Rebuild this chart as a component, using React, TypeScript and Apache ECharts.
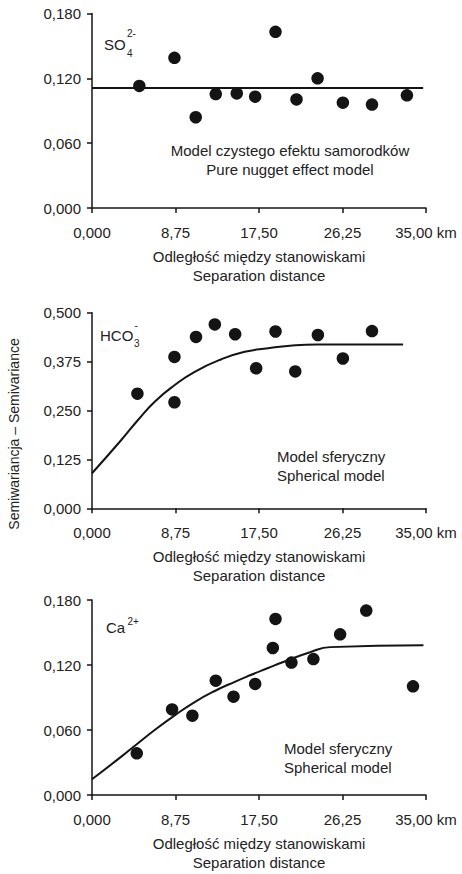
import React, { useEffect, useRef } from "react";
import * as echarts from "echarts";

// ---- data ----
const xTickLabels = ["0,000", "8,75", "17,50", "26,25", "35,00 km"];
const so4YTicks = ["0,000", "0,060", "0,120", "0,180"];
const hcoYTicks = ["0,000", "0,125", "0,250", "0,375", "0,500"];
const caYTicks = ["0,000", "0,060", "0,120", "0,180"];

const so4Dist = [4.96, 8.64, 10.87, 12.97, 15.17, 17.1, 19.23, 21.43, 23.64, 26.29, 29.34, 33.0];
const so4Gamma = [0.113, 0.139, 0.084, 0.1055, 0.106, 0.103, 0.163, 0.1005, 0.12, 0.0975, 0.0957, 0.1043];
const so4ModelDist = [0, 34.7];
const so4ModelGamma = [0.111, 0.111];

const hcoDist = [4.76, 8.64, 8.64, 10.9, 12.87, 15.0, 17.2, 19.23, 21.3, 23.67, 26.29, 29.34];
const hcoGamma = [0.293, 0.387, 0.271, 0.438, 0.47, 0.445, 0.358, 0.452, 0.35, 0.443, 0.383, 0.453];
const hcoModelDist = [0, 3.07, 4.82, 6.57, 8.67, 10.76, 13.56, 16.0, 18.45, 20.75, 23.55, 26.0, 32.6];
const hcoModelGamma = [0.0895, 0.1746, 0.2257, 0.2725, 0.315, 0.349, 0.381, 0.4, 0.409, 0.4157, 0.419, 0.419, 0.419];

const caDist = [4.69, 8.39, 10.52, 12.97, 14.83, 17.1, 18.95, 19.23, 20.9, 23.2, 26.0, 28.74, 33.64];
const caGamma = [0.0385, 0.079, 0.0732, 0.1055, 0.0908, 0.1025, 0.1357, 0.1625, 0.1222, 0.1255, 0.1483, 0.1702, 0.1003];
const caModelDist = [0, 3.07, 4.82, 6.57, 8.67, 10.76, 12.86, 14.96, 16.56, 18.45, 20.05, 22.85, 24.95, 34.73];
const caModelGamma = [0.0145, 0.0354, 0.0478, 0.06, 0.0735, 0.0858, 0.096, 0.1045, 0.1105, 0.1172, 0.1228, 0.1318, 0.1365, 0.1382];

const xAxisName = "Odległość między stanowiskami\nSeparation distance";
const yAxisName = "Semiwariancja – Semivariance";

const FONT = "'Liberation Sans', Arial, Helvetica, sans-serif";
const TEXT = "#222222";
const INK = "#141414";

const zip = (a: number[], b: number[]) => a.map((v, i) => [v, b[i]]);

export default function App() {
  const ref = useRef<HTMLDivElement>(null);
  useEffect(() => {
    if (!ref.current) return;
    const chart = echarts.init(ref.current, null, { renderer: "svg" });

    const grids = [
      { left: 92, top: 13.5, width: 334, height: 194.5 },
      { left: 92, top: 312.7, width: 334, height: 195.6 },
      { left: 92, top: 600, width: 334, height: 195 },
    ];
    const axisLine = { show: true, onZero: false, lineStyle: { color: INK, width: 1.5 } };
    const axisTick = { show: true, inside: false, length: 5, lineStyle: { color: INK, width: 1.5 } };

    const xAxes = grids.map((_, i) => ({
      type: "value",
      gridIndex: i,
      min: 0,
      max: 35,
      interval: 8.75,
      splitLine: { show: false },
      axisLine,
      axisTick,
      axisLabel: {
        margin: 17,
        color: TEXT,
        fontSize: 15,
        fontFamily: FONT,
        showMaxLabel: true,
        showMinLabel: true,
        formatter: (v: number) => xTickLabels[Math.round(v / 8.75)] ?? "",
      },
      name: xAxisName,
      nameLocation: "middle",
      nameGap: 39,
      nameTextStyle: { color: TEXT, fontSize: 15, fontFamily: FONT, lineHeight: 19 },
    }));

    const yDefs = [
      { max: 0.18, interval: 0.06, labels: so4YTicks },
      { max: 0.5, interval: 0.125, labels: hcoYTicks },
      { max: 0.18, interval: 0.06, labels: caYTicks },
    ];
    const yAxes = yDefs.map((d, i) => ({
      type: "value",
      gridIndex: i,
      min: 0,
      max: d.max,
      interval: d.interval,
      splitLine: { show: false },
      axisLine,
      axisTick,
      axisLabel: {
        margin: 11,
        color: TEXT,
        fontSize: 15,
        fontFamily: FONT,
        showMaxLabel: true,
        formatter: (v: number) => d.labels[Math.round(v / d.interval)] ?? "",
      },
    }));

    const scatter = (i: number, x: number[], y: number[]) => ({
      type: "scatter",
      xAxisIndex: i,
      yAxisIndex: i,
      data: zip(x, y),
      symbol: "circle",
      symbolSize: 12.5,
      itemStyle: { color: INK, opacity: 1 },
      z: 3,
    });
    const line = (i: number, x: number[], y: number[]) => ({
      type: "line",
      xAxisIndex: i,
      yAxisIndex: i,
      data: zip(x, y),
      showSymbol: false,
      smooth: 0.5,
      lineStyle: { color: INK, width: 2 },
      z: 2,
    });

    const t = (text: string, x: number, y: number, size = 15, align = "left", vAlign = "middle", extra: any = {}) => ({
      type: "text",
      x,
      y,
      ...extra,
      style: { text, fontSize: size, fontFamily: FONT, fill: TEXT, align, verticalAlign: vAlign },
    });

    const graphic = [
      // SO4 2-
      t("SO", 104, 44),
      t("4", 127, 53, 10),
      t("2-", 127, 33, 10),
      t("Model czystego efektu samorodków", 290, 150, 15, "center"),
      t("Pure nugget effect model", 290, 169, 15, "center"),
      // HCO3 -
      t("HCO", 100, 335),
      t("3", 134, 343, 10),
      t("-", 134.5, 325, 10),
      t("Model sferyczny", 277, 456),
      t("Spherical model", 277, 475),
      // Ca 2+
      t("Ca", 106, 627),
      t("2+", 127.5, 621, 10),
      t("Model sferyczny", 284, 748),
      t("Spherical model", 284, 767),
      // y axis title
      t(yAxisName, 13.5, 434, 14, "center", "middle", { rotation: Math.PI / 2 }),
    ];

    chart.setOption({
      animation: false,
      backgroundColor: "#ffffff",
      grid: grids,
      xAxis: xAxes,
      yAxis: yAxes,
      series: [
        line(0, so4ModelDist, so4ModelGamma),
        scatter(0, so4Dist, so4Gamma),
        line(1, hcoModelDist, hcoModelGamma),
        scatter(1, hcoDist, hcoGamma),
        line(2, caModelDist, caModelGamma),
        scatter(2, caDist, caGamma),
      ],
      graphic,
    });
    return () => chart.dispose();
  }, []);

  return (
    <div
      ref={ref}
      style={{ position: "fixed", left: 0, top: 0, width: 462, height: 874, background: "#fff" }}
    />
  );
}
